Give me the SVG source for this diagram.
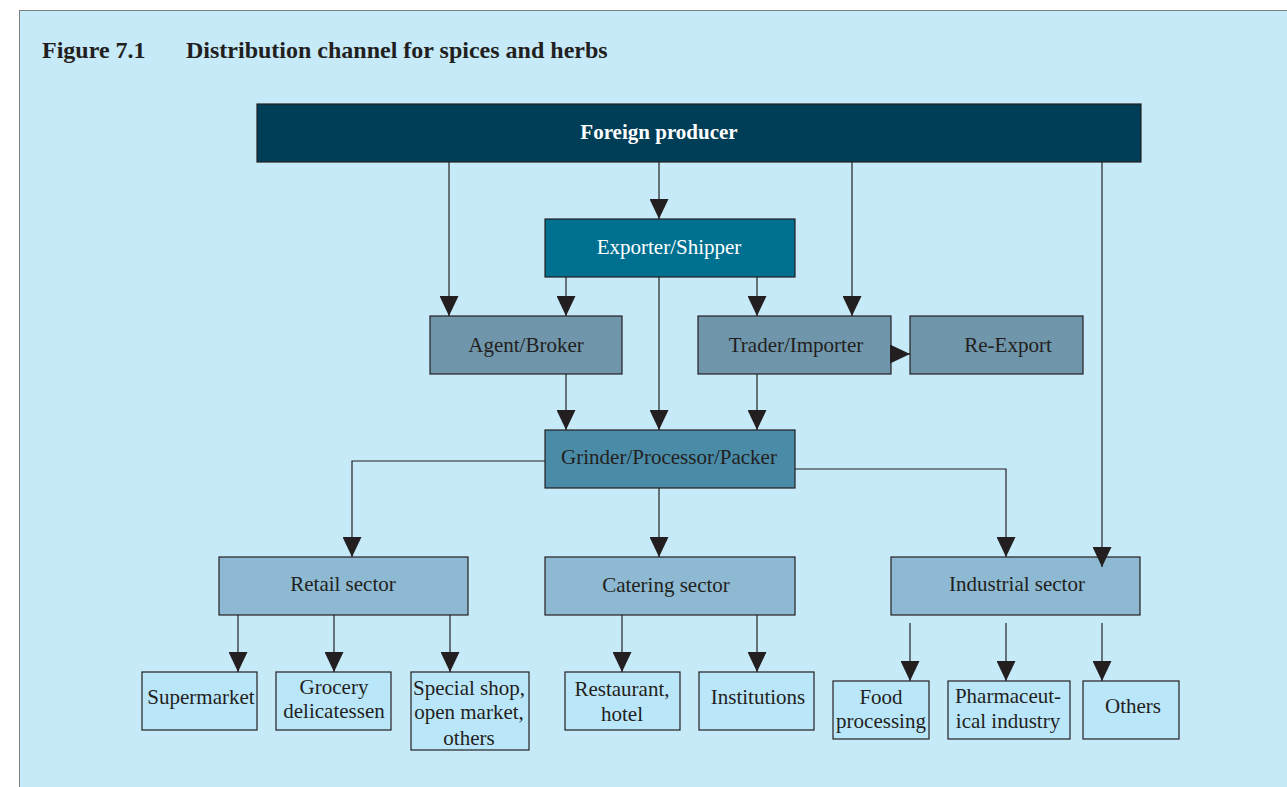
<svg xmlns="http://www.w3.org/2000/svg" width="1287" height="787" viewBox="0 0 1287 787">
<style>
.t{font-family:"Liberation Serif","Times New Roman",serif;font-size:21px;fill:#231f20;text-anchor:middle}
.w{fill:#ffffff}
.b{font-weight:bold}
.box{stroke:#231f20;stroke-width:1.2}
.c{fill:none;stroke:#231f20;stroke-width:1.2;marker-end:url(#ah)}
</style>
<defs>
<marker id="ah" markerUnits="userSpaceOnUse" viewBox="0 0 20 19" markerWidth="20" markerHeight="19" refX="20" refY="9.5" orient="auto">
<path d="M0,0 L20,9.5 L0,19 z" fill="#231f20"/>
</marker>
</defs>
<rect x="0" y="0" width="1287" height="787" fill="#ffffff"/>
<rect x="19.5" y="10.5" width="1290" height="800" fill="#c7eaf9" stroke="#7f7f7f" stroke-width="1"/>
<text x="42" y="58" class="t b" style="font-size:24px;text-anchor:start">Figure 7.1</text>
<text x="186" y="58" class="t b" style="font-size:24px;text-anchor:start">Distribution channel for spices and herbs</text>

<g id="foreign-producer"><rect x="257" y="104" width="884" height="58" fill="#003d56" class="box"/><text x="659" y="139" class="t w b">Foreign producer</text></g>
<g id="exporter"><rect x="545" y="219" width="250" height="58" fill="#007090" class="box"/><text x="669" y="254" class="t w">Exporter/Shipper</text></g>
<g id="agent"><rect x="430" y="316" width="192" height="58" fill="#6f96aa" class="box"/><text x="526" y="352" class="t">Agent/Broker</text></g>
<g id="trader"><rect x="698" y="316" width="193" height="58" fill="#6f96aa" class="box"/><text x="796" y="352" class="t">Trader/Importer</text></g>
<g id="reexport"><rect x="910" y="316" width="173" height="58" fill="#6f96aa" class="box"/><text x="1008" y="352" class="t">Re-Export</text></g>
<g id="grinder"><rect x="545" y="430" width="250" height="58" fill="#4a8ba8" class="box"/><text x="669" y="464" class="t">Grinder/Processor/Packer</text></g>
<g id="retail"><rect x="219" y="557" width="249" height="58" fill="#8dbad2" class="box"/><text x="343" y="591" class="t">Retail sector</text></g>
<g id="catering"><rect x="545" y="557" width="250" height="58" fill="#8dbad2" class="box"/><text x="666" y="592" class="t">Catering sector</text></g>
<g id="industrial"><rect x="891" y="557" width="249" height="58" fill="#8dbad2" class="box"/><text x="1017" y="591" class="t">Industrial sector</text></g>
<g id="supermarket"><rect x="142" y="672" width="115" height="58" fill="#bae6fa" class="box"/><text x="201" y="704" class="t">Supermarket</text></g>
<g id="grocery"><rect x="276" y="672" width="115" height="58" fill="#bae6fa" class="box"/><text x="334" y="694" class="t">Grocery</text><text x="334" y="718" class="t">delicatessen</text></g>
<g id="special"><rect x="411" y="672" width="118" height="78" fill="#bae6fa" class="box"/><text x="469" y="695" class="t">Special shop,</text><text x="469" y="719" class="t">open market,</text><text x="469" y="745" class="t">others</text></g>
<g id="restaurant"><rect x="565" y="672" width="115" height="58" fill="#bae6fa" class="box"/><text x="622" y="696" class="t">Restaurant,</text><text x="622" y="721" class="t">hotel</text></g>
<g id="institutions"><rect x="699" y="672" width="115" height="58" fill="#bae6fa" class="box"/><text x="758" y="704" class="t">Institutions</text></g>
<g id="food"><rect x="833" y="681" width="96" height="58" fill="#bae6fa" class="box"/><text x="881" y="704" class="t">Food</text><text x="881" y="728" class="t">processing</text></g>
<g id="pharma"><rect x="948" y="681" width="122" height="58" fill="#bae6fa" class="box"/><text x="1008" y="703" class="t">Pharmaceut-</text><text x="1008" y="728" class="t">ical industry</text></g>
<g id="others"><rect x="1083" y="681" width="96" height="58" fill="#bae6fa" class="box"/><text x="1133" y="713" class="t">Others</text></g>

<g id="connectors">
<path class="c" d="M449,162 V316"/>
<path class="c" d="M659,162 V219"/>
<path class="c" d="M852,162 V316"/>
<path class="c" d="M1102,162 V567"/>
<path class="c" d="M566,277 V316"/>
<path class="c" d="M659,277 V430"/>
<path class="c" d="M757,277 V316"/>
<path class="c" d="M566,374 V430"/>
<path class="c" d="M757,374 V430"/>
<path class="c" d="M890,354 H910"/>
<path class="c" d="M545,461 H352 V557"/>
<path class="c" d="M795,469 H1006 V557"/>
<path class="c" d="M659,488 V557"/>
<path class="c" d="M238,615 V672"/>
<path class="c" d="M334,615 V672"/>
<path class="c" d="M450,615 V672"/>
<path class="c" d="M622,615 V672"/>
<path class="c" d="M757,615 V672"/>
<path class="c" d="M910,623 V681"/>
<path class="c" d="M1006,623 V681"/>
<path class="c" d="M1102,623 V681"/>
</g>
</svg>
